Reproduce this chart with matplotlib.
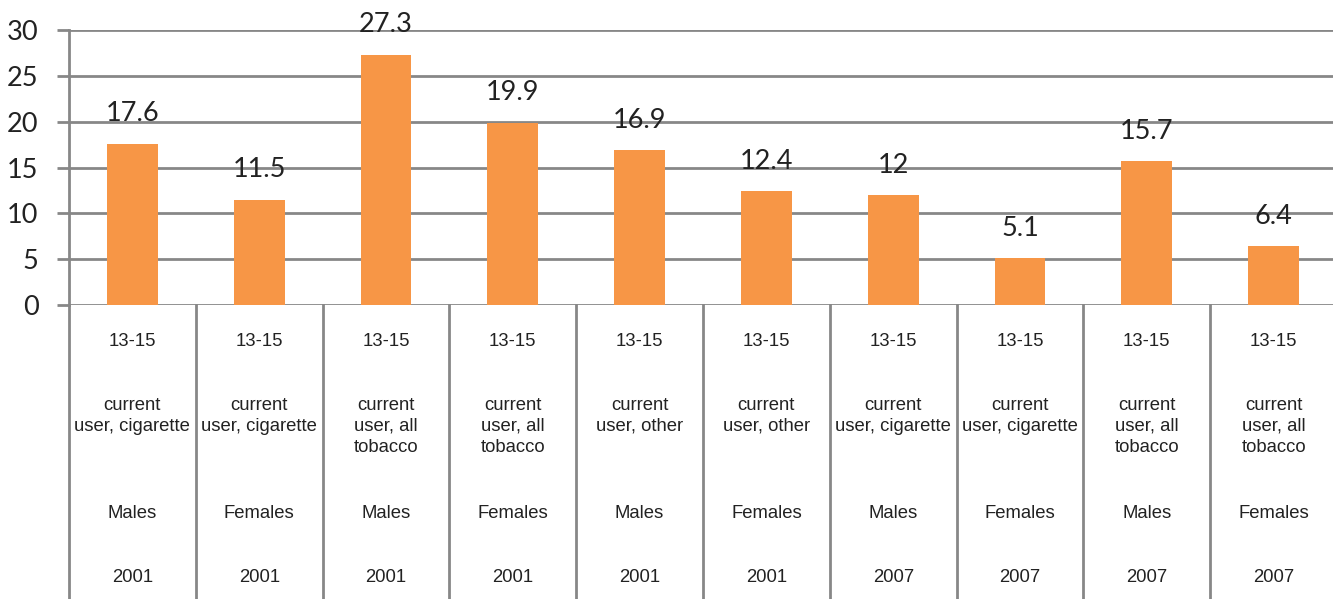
import matplotlib
matplotlib.use("Agg")
import matplotlib.pyplot as plt
from matplotlib.lines import Line2D

values = [17.6, 11.5, 27.3, 19.9, 16.9, 12.4, 12, 5.1, 15.7, 6.4]
value_labels = ["17.6", "11.5", "27.3", "19.9", "16.9", "12.4", "12", "5.1", "15.7", "6.4"]
age = ["13-15"] * 10
indicator = ["current\nuser, cigarette", "current\nuser, cigarette",
             "current\nuser, all\ntobacco", "current\nuser, all\ntobacco",
             "current\nuser, other", "current\nuser, other",
             "current\nuser, cigarette", "current\nuser, cigarette",
             "current\nuser, all\ntobacco", "current\nuser, all\ntobacco"]
sex = ["Males", "Females"] * 5
year = ["2001"] * 6 + ["2007"] * 4
yticks = [0, 5, 10, 15, 20, 25, 30]

W, H = 1333, 599
fig = plt.figure(figsize=(W / 100, H / 100), dpi=100)
ax_left, ax_right, ax_top, ax_bot = 69, 1337, 30, 305
ax = fig.add_axes([ax_left / W, 1 - ax_bot / H, (ax_right - ax_left) / W, (ax_bot - ax_top) / H])

grid_c = "#878787"
bar_c = "#F79646"
txt_c = "#222222"
cat_font = ["Liberation Sans", "DejaVu Sans"]

x = list(range(len(values)))
ax.bar(x, values, width=0.4, color=bar_c, zorder=3)
ax.set_xlim(-0.5, len(values) - 0.5)
ax.set_ylim(0, 30)
ax.set_yticks(yticks)
ax.set_yticklabels([str(t) for t in yticks], fontsize=19.5, color=txt_c, family="Lato")
ax.tick_params(axis="y", length=9, width=2, color=grid_c, pad=13)
ax.tick_params(axis="x", length=0, labelbottom=False)
for yv in yticks:
    ax.axhline(yv, color=grid_c, lw=2, zorder=1)
for s in ["top", "right", "bottom"]:
    ax.spines[s].set_visible(False)
ax.spines["left"].set_color(grid_c)
ax.spines["left"].set_linewidth(2)
ax.spines["left"].set_zorder(4)

for xi, v, lab in zip(x, values, value_labels):
    ax.annotate(lab, (xi, v), xytext=(0, 21.5), textcoords="offset points",
                ha="center", va="center", fontsize=19.5, color=txt_c, family="Lato")

tr = ax.get_xaxis_transform()
axh = ax_bot - ax_top
def yax(py):
    return (ax_bot - py) / axh

for b in range(len(values) + 1):
    ax.add_line(Line2D([b - 0.5, b - 0.5], [0, yax(H + 5)], transform=tr,
                       color=grid_c, lw=2, clip_on=False))

rows = [(age, 341, "center"), (indicator, 397, "top"), (sex, 513, "center"), (year, 577, "center")]
for labels, py, va in rows:
    for xi, lab in zip(x, labels):
        ax.text(xi, yax(py), lab, transform=tr, ha="center", va=va,
                fontsize=13.3, color=txt_c, family=cat_font, linespacing=1.3)

fig.savefig("out.png", dpi=100)
